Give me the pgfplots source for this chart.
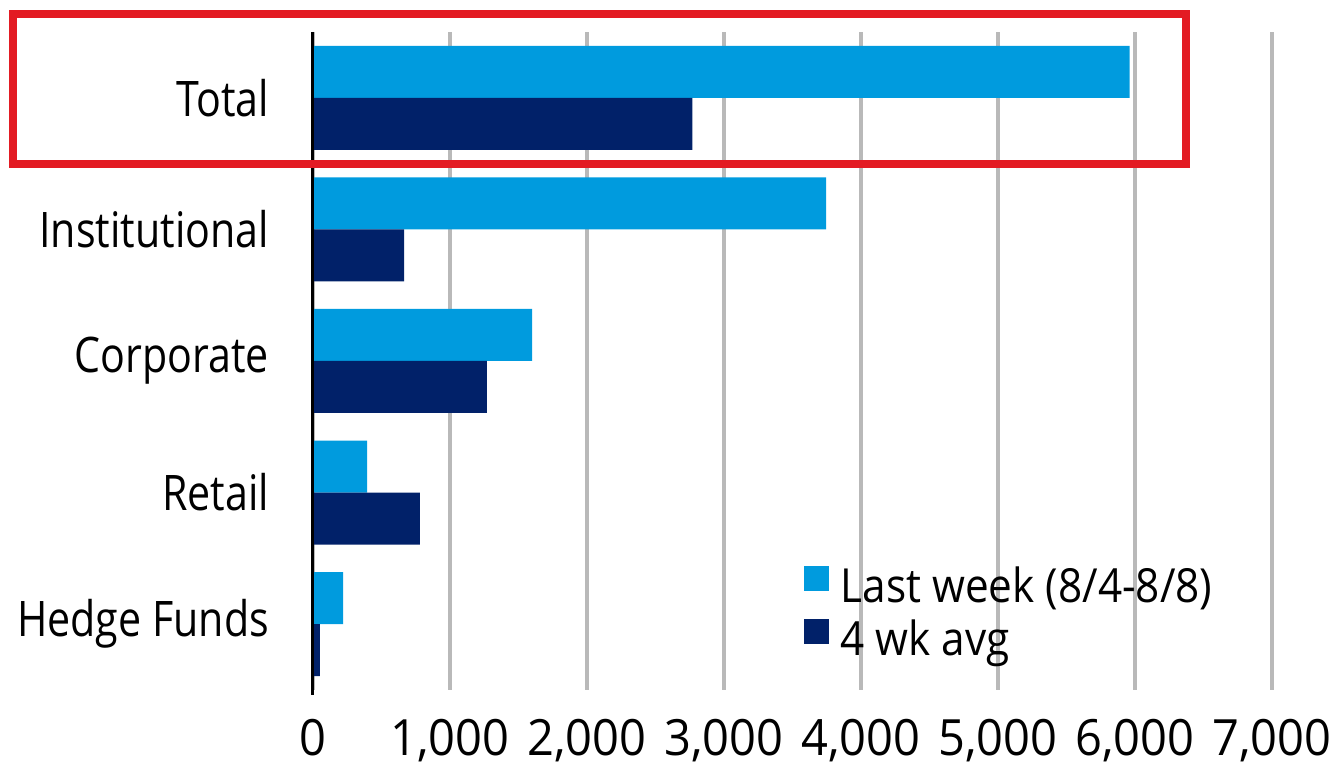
\documentclass[border=0pt]{standalone}
\usepackage{pgfplots}
\pgfplotsset{compat=1.18}
\usepackage{fontspec}
\setmainfont{Open Sans}[FakeStretch=0.84]
\newfontfamily\tickfont{Open Sans}[FakeStretch=0.94]
\newfontfamily\legfont{Open Sans}[FakeStretch=0.9]
\definecolor{lightblue}{RGB}{0,155,222}
\definecolor{navy}{RGB}{1,33,105}
\definecolor{gridgray}{RGB}{185,185,185}
\definecolor{boxred}{RGB}{227,27,35}
\begin{document}
\begin{tikzpicture}
\begin{axis}[
  scale only axis,
  width=479.5pt, height=329pt,
  xmin=0, xmax=7000, ymin=-0.5, ymax=4.5,
  xbar, bar width=26pt,
  xtick={0,1000,...,7000},
  ytick={0,1,2,3,4},
  yticklabels={Hedge Funds,Retail,Corporate,Institutional,Total},
  major tick length=0pt,
  xmajorgrids,
  grid style={gridgray, line width=1.6pt},
  axis line style={draw=none},
  /pgf/number format/.cd, 1000 sep={,}, assume math mode=true,
  /pgfplots/.cd,
  xticklabel style={font=\tickfont\fontsize{25}{30}\selectfont, yshift=-11pt},
  yticklabel style={font=\fontsize{24.5}{29}\selectfont, xshift=-18.5pt},
  clip=false,
  legend style={draw=none, fill=none, at={(0.505,0.2)}, anchor=north west,
    font=\legfont\fontsize{23.5}{25}\selectfont, row sep=3pt,
    /tikz/every odd column/.append style={column sep=4pt}},
  legend cell align=left,
  legend image code/.code={\fill[#1] (0pt,-2.5pt) rectangle (12.5pt,10pt);},
]
\addplot[draw=none, fill=lightblue, bar shift=13pt] coordinates {
  (5960,4) (3745,3) (1600,2) (395,1) (220,0)};
\addplot[draw=none, fill=navy, bar shift=-13pt] coordinates {
  (2770,4) (665,3) (1270,2) (780,1) (50,0)};
\legend{Last week (8/4-8/8), 4 wk avg}
\draw[black, line width=1.5pt] (axis cs:0,4.5) -- (axis cs:0,-0.54);
\draw[boxred, line width=4pt] (axis cs:-2193,4.637) rectangle (axis cs:6372,3.497);
\coordinate (bbl) at (axis cs:-2284.7,-1.153);
\coordinate (btr) at (axis cs:7423.4,4.743);
\end{axis}
\pgfresetboundingbox
\path (bbl) rectangle (btr);
\end{tikzpicture}
\end{document}
